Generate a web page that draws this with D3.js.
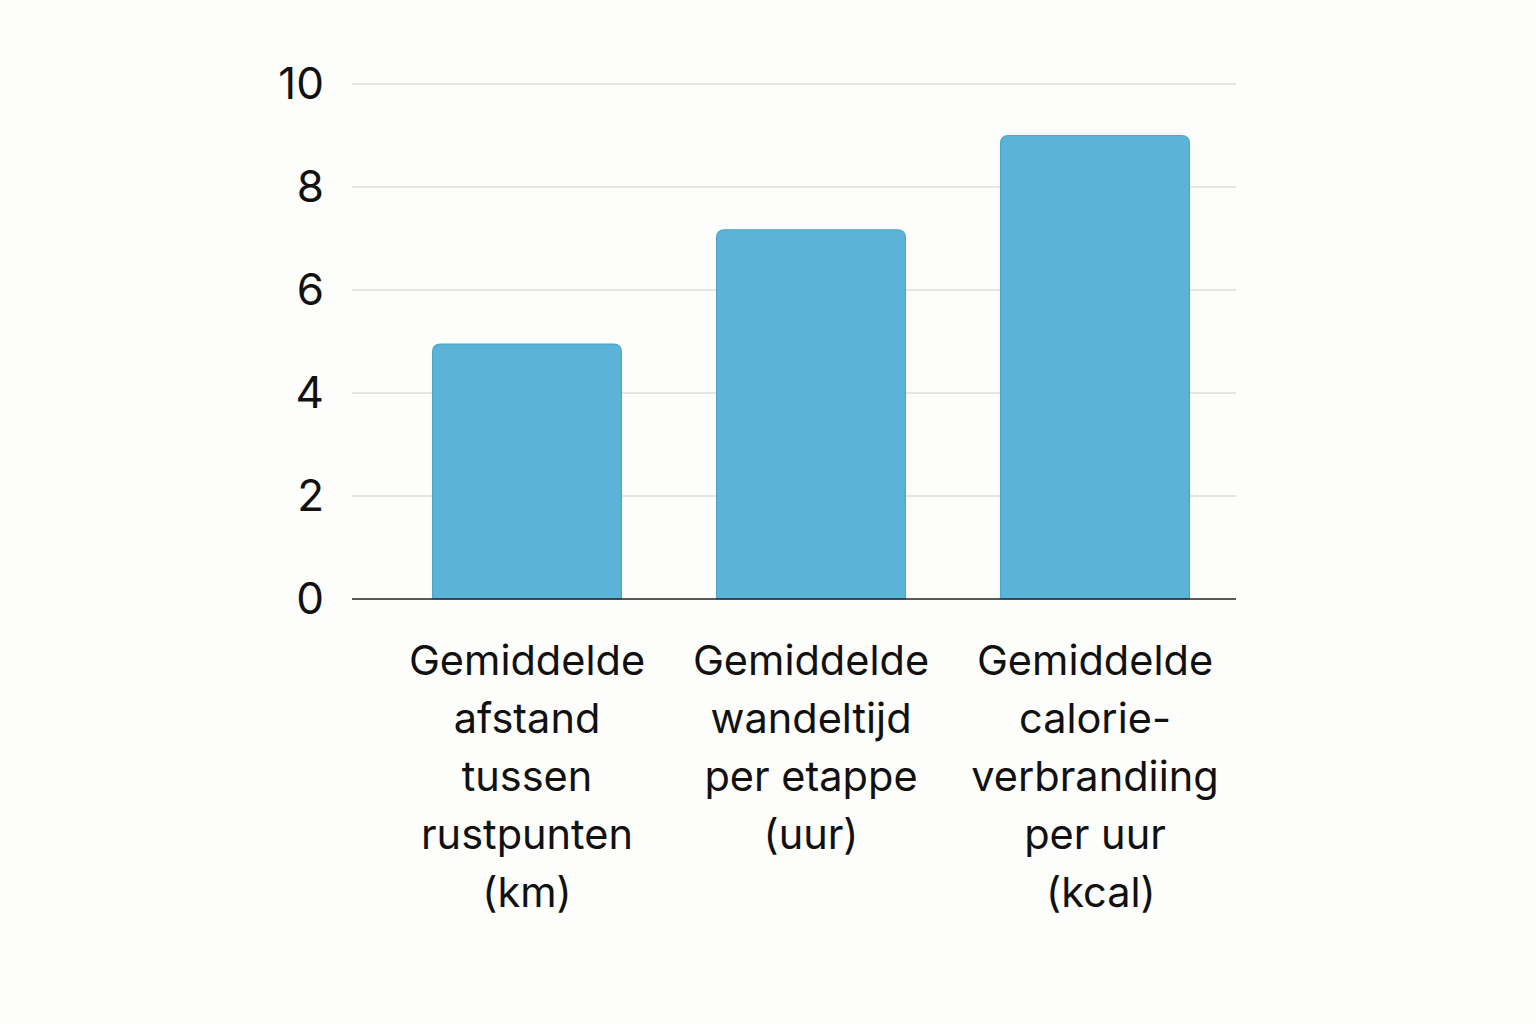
<!DOCTYPE html>
<html>
<head>
<meta charset="utf-8">
<script src="https://cdn.jsdelivr.net/npm/d3@7"></script>
<style>
  html, body { margin: 0; padding: 0; background: #fdfdfb; }
  svg { display: block; }
  text { font-family: Inter, "Noto Sans", sans-serif; fill: #111; }
</style>
</head>
<body>
<div id="chart"></div>
<script>
// Chart data
var categories = ["afstand", "wandeltijd", "calorie"];
var labelLines = [
  ["Gemiddelde", "afstand", "tussen", "rustpunten", "(km)"],
  ["Gemiddelde", "wandeltijd", "per etappe", "(uur)"],
  ["Gemiddelde", "calorie-", "verbrandiing", "per uur", " (kcal)"]
];
var values = [4.95, 7.17, 9.0];
var yTicks = [0, 2, 4, 6, 8, 10];

var W = 1536, H = 1024;
var plot = { left: 352, right: 1236, top: 84, bottom: 599 };

var svg = d3.select('#chart').append('svg')
    .attr('width', W)
    .attr('height', H);

var y = d3.scaleLinear().domain([0, 10]).range([plot.bottom, plot.top]);
var x = d3.scaleBand().domain(categories)
    .range([385, 1237])
    .paddingInner(0.335)
    .paddingOuter(0.1675);

// Gridlines
svg.append('g').selectAll('line')
    .data(yTicks.filter(function(d) { return d > 0; }))
    .enter().append('line')
    .attr('x1', plot.left).attr('x2', plot.right)
    .attr('y1', function(d) { return y(d); })
    .attr('y2', function(d) { return y(d); })
    .attr('stroke', '#dcdcda')
    .attr('stroke-width', 1.5);

// Y axis labels
var yAxis = d3.axisLeft(y).tickValues(yTicks).tickSize(0).tickPadding(28);
svg.append('g')
    .attr('transform', 'translate(' + plot.left + ',0)')
    .call(yAxis)
    .call(function(g) { g.select('.domain').remove(); })
    .selectAll('text')
    .attr('font-size', 44)
    .attr('font-family', 'Inter, "Noto Sans", sans-serif')
    .attr('fill', '#111');

// Bars with rounded top corners
function barPath(x0, w, yTop, yBot, r) {
  return 'M' + x0 + ',' + yBot +
    'V' + (yTop + r) +
    'Q' + x0 + ',' + yTop + ' ' + (x0 + r) + ',' + yTop +
    'H' + (x0 + w - r) +
    'Q' + (x0 + w) + ',' + yTop + ' ' + (x0 + w) + ',' + (yTop + r) +
    'V' + yBot + 'Z';
}

svg.append('g').selectAll('path')
    .data(values)
    .enter().append('path')
    .attr('d', function(d, i) {
      return barPath(x(categories[i]), x.bandwidth(), y(d), y(0), 8);
    })
    .attr('fill', '#5bb4d7')
    .attr('stroke', '#4aa6cc')
    .attr('stroke-width', 1.2);

// Baseline
svg.append('line')
    .attr('x1', plot.left).attr('x2', plot.right)
    .attr('y1', y(0)).attr('y2', y(0))
    .attr('stroke', '#222')
    .attr('stroke-width', 1.5);

// Category labels
var labels = svg.append('g').selectAll('text')
    .data(labelLines)
    .enter().append('text')
    .attr('text-anchor', 'middle')
    .attr('font-size', 41.5)
    .attr('transform', function(d, i) {
      return 'translate(' + (x(categories[i]) + x.bandwidth() / 2) + ',675)';
    });

labels.selectAll('tspan')
    .data(function(d) { return d; })
    .enter().append('tspan')
    .attr('x', 0)
    .attr('y', function(d, j) { return j * 58; })
    .attr('xml:space', 'preserve')
    .text(function(d) { return d; });
</script>
</body>
</html>
